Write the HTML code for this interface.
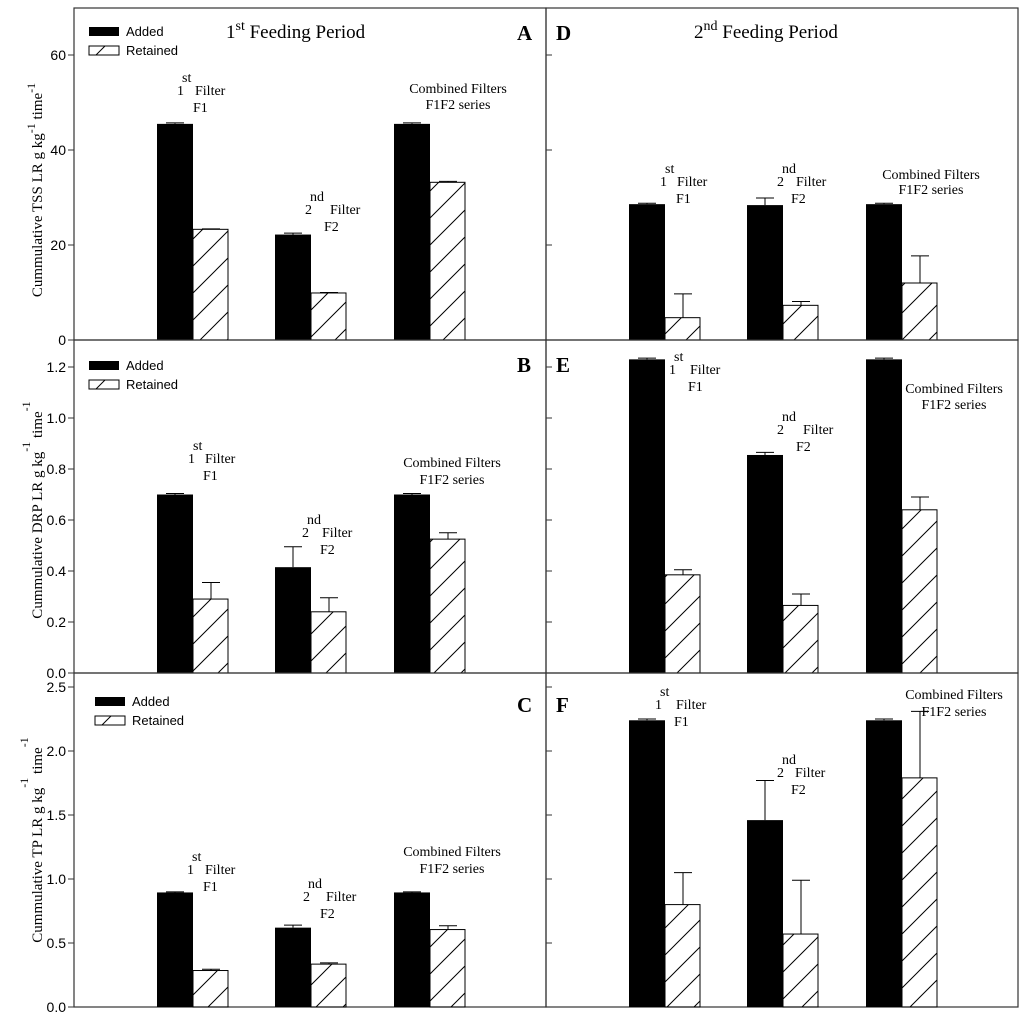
<!DOCTYPE html>
<html><head><meta charset="utf-8"><style>
html,body{margin:0;padding:0;background:#fff}
svg{display:block}
.s{font-family:"Liberation Serif",serif;fill:#000}
.a{font-family:"Liberation Sans",sans-serif;fill:#000}
</style></head><body>
<svg id="c" width="1024" height="1018" viewBox="0 0 1024 1018" xmlns="http://www.w3.org/2000/svg">
<defs>
<pattern id="h" patternUnits="userSpaceOnUse" width="27" height="27">
<path d="M-2,29 L29,-2 M-2,2 L2,-2 M25,29 L29,25" stroke="#000" stroke-width="1"/>
</pattern>
</defs>
</svg>
<script>
const groups = ["F1","F2","F1F2"];
const addedA = [45.5, 22.2, 45.5]; const addedAErr = [0.2, 0.3, 0.2];
const retA = [23.3, 9.9, 33.2]; const retAErr = [0.1, 0.1, 0.2];
const addedD = [28.6, 28.4, 28.6]; const addedDErr = [0.2, 1.5, 0.2];
const retD = [4.7, 7.3, 12.0]; const retDErr = [5.0, 0.8, 5.7];
const addedB = [0.70, 0.415, 0.70]; const addedBErr = [0.004, 0.08, 0.004];
const retB = [0.29, 0.24, 0.525]; const retBErr = [0.065, 0.055, 0.025];
const addedE = [1.23, 0.855, 1.23]; const addedEErr = [0.005, 0.01, 0.005];
const retE = [0.385, 0.265, 0.64]; const retEErr = [0.02, 0.045, 0.05];
const addedC = [0.895, 0.62, 0.895]; const addedCErr = [0.004, 0.02, 0.004];
const retC = [0.285, 0.335, 0.605]; const retCErr = [0.01, 0.01, 0.03];
const addedF = [2.24, 1.46, 2.24]; const addedFErr = [0.01, 0.31, 0.01];
const retF = [0.80, 0.57, 1.79]; const retFErr = [0.25, 0.42, 0.52];
const ticksA = [0, 20, 40, 60];
const ticksB = [0.0, 0.2, 0.4, 0.6, 0.8, 1.0, 1.2];
const ticksC = [0.0, 0.5, 1.0, 1.5, 2.0, 2.5];

const svg = document.getElementById('c');
const NS = "http://www.w3.org/2000/svg";
function mk(tag, attrs, parent){ const e=document.createElementNS(NS,tag); for(const k in attrs) e.setAttribute(k,attrs[k]); (parent||svg).appendChild(e); return e; }
function txt(x,y,s,cls,size,anchor,parent){ const t=mk('text',{x:x,y:y,class:cls,'font-size':size,'text-anchor':anchor||'start'},parent); t.textContent=s; return t; }

const panels = [
 {id:'A', x0:74, top:8, zero:340, ppu:4.75, added:addedA, addErr:addedAErr, ret:retA, retErr:retAErr, ticks:ticksA, fmt:v=>String(v), left:true, ly:40},
 {id:'B', x0:74, top:340, zero:673, ppu:255, added:addedB, addErr:addedBErr, ret:retB, retErr:retBErr, ticks:ticksB, fmt:v=>v.toFixed(1), left:true, ly:372},
 {id:'C', x0:74, top:673, zero:1007, ppu:128, added:addedC, addErr:addedCErr, ret:retC, retErr:retCErr, ticks:ticksC, fmt:v=>v.toFixed(1), left:true, ly:712},
 {id:'D', x0:546, top:8, zero:340, ppu:4.75, added:addedD, addErr:addedDErr, ret:retD, retErr:retDErr, ticks:ticksA, left:false, ly:40},
 {id:'E', x0:546, top:340, zero:673, ppu:255, added:addedE, addErr:addedEErr, ret:retE, retErr:retEErr, ticks:ticksB, left:false, ly:372},
 {id:'F', x0:546, top:673, zero:1007, ppu:128, added:addedF, addErr:addedFErr, ret:retF, retErr:retFErr, ticks:ticksC, left:false, ly:712}
];
const groupOff = [83, 201, 320];
const bw = 36;

panels.forEach(p=>{
  const g = mk('g',{});
  
  
  const y = v => p.zero - v*p.ppu;
  const fr = mk('rect',{x:p.x0,y:p.top,width:472,height:p.zero-p.top,fill:'none',stroke:'#333','stroke-width':1.2},g);
  
  
  p.ticks.forEach(t=>{
    const ty=y(t);
    if(p.left){
      const tk = mk('line',{x1:p.x0-6,x2:p.x0,y1:ty,y2:ty,stroke:'#333'},g);
      
      
      const lb = txt(p.x0-8, ty+5, p.fmt(t), 'a', 14, 'end', g);
      
      
    } else {
      const tk = mk('line',{x1:p.x0,x2:p.x0+6,y1:ty,y2:ty,stroke:'#333'},g);
      
      
    }
  });
  groups.forEach((gn,i)=>{
    const xa = p.x0+groupOff[i];
    const ya = y(p.added[i]);
    const ba = mk('rect',{x:xa,y:ya,width:bw,height:p.zero-ya,fill:'#000'},g);
    
    
    const ye = y(p.added[i]+p.addErr[i]);
    const ea = mk('path',{d:`M${xa+bw/2},${ya} V${ye} M${xa+bw/2-9},${ye} H${xa+bw/2+9}`,stroke:'#000',fill:'none'},g);
    
    
    const xr = xa+bw;
    const yr = y(p.ret[i]);
    const ye2 = y(p.ret[i]+p.retErr[i]);
    const er = mk('path',{d:`M${xr+bw/2},${yr} V${ye2} M${xr+bw/2-9},${ye2} H${xr+bw/2+9}`,stroke:'#000',fill:'none'},g);
    
    
    const br = mk('rect',{x:xr,y:yr,width:bw-1,height:p.zero-yr,fill:'url(#h)',stroke:'#000','stroke-width':1},g);
    
    
  });
  const L = txt(p.left?p.x0+443:p.x0+10, p.ly, p.id, 's', 21, 'start', g);
  L.setAttribute('font-weight','bold');
  
  
});

[[89,31],[89,365],[95,701]].forEach(([lx,ly])=>{
  const lg = mk('g',{});
  
  
  mk('rect',{x:lx,y:ly-4,width:30,height:9,fill:'#000'},lg);
  const t1=txt(lx+37,ly+5,'Added','a',13,'start',lg);
  
  
  mk('rect',{x:lx,y:ly+15,width:30,height:9,fill:'#fff',stroke:'#000'},lg);
  mk('line',{x1:lx+7,y1:ly+24,x2:lx+16,y2:ly+15,stroke:'#000'},lg);
  const t2=txt(lx+37,ly+24,'Retained','a',13,'start',lg);
  
  
});

function flabel(num,sup,fx,xnum,ymid,fxF,fname){
  const g=mk('g',{});
  
  
  txt(xnum+5, ymid-8, sup,'s',14,'start',g);
  txt(xnum, ymid+5, num,'s',14,'start',g);
  txt(fx, ymid+5, 'Filter','s',14,'start',g);
  txt(fxF, ymid+22, fname,'s',14,'start',g);
}
function clabel(cx,y1,y2){
  const g=mk('g',{});
  
  
  txt(cx,y1+5,'Combined Filters','s',14,'middle',g);
  txt(cx,y2+5,'F1F2 series','s',14,'middle',g);
}
flabel('1','st',195,177,90,193,'F1'); flabel('2','nd',330,305,209,324,'F2'); clabel(458,88,104);
flabel('1','st',205,188,458,203,'F1'); flabel('2','nd',322,302,532,320,'F2'); clabel(452,462,479);
flabel('1','st',205,187,869,203,'F1'); flabel('2','nd',326,303,896,320,'F2'); clabel(452,851,868);
flabel('1','st',677,660,181,676,'F1'); flabel('2','nd',796,777,181,791,'F2'); clabel(931,174,189);
flabel('1','st',690,669,369,688,'F1'); flabel('2','nd',803,777,429,796,'F2'); clabel(954,388,404);
flabel('1','st',676,655,704,674,'F1'); flabel('2','nd',795,777,772,791,'F2'); clabel(954,694,711);

function title(x,num,sup,name){
  const t=mk('text',{x:x,y:38,class:'s','font-size':19},svg);
  
  
  t.innerHTML=num+'<tspan dy="-8" font-size="14">'+sup+'</tspan><tspan dy="8"> Feeding Period</tspan>';
}
title(226,'1','st','title-first-feeding');
title(694,'2','nd','title-second-feeding');

function ytitle(cx,cy,html,name){
  const t=mk('text',{x:0,y:0,class:'s','font-size':15,'text-anchor':'middle',transform:`translate(${cx},${cy}) rotate(-90)`},svg);
  
  
  t.innerHTML=html;
}
ytitle(42,190,'Cummulative TSS LR g kg<tspan dy="-7" font-size="12">-1</tspan><tspan dy="7"> time</tspan><tspan dy="-7" font-size="12">-1</tspan>','y-axis-title-tss');
ytitle(42,510,'Cummulative DRP LR g kg<tspan dy="-12" font-size="12">-1</tspan><tspan dy="12"> time</tspan><tspan dy="-12" font-size="12">-1</tspan>','y-axis-title-drp');
ytitle(42,840,'Cummulative TP LR g kg<tspan dy="-14" font-size="12">-1</tspan><tspan dy="14"> time</tspan><tspan dy="-14" font-size="12">-1</tspan>','y-axis-title-tp');
</script>
</body></html>
